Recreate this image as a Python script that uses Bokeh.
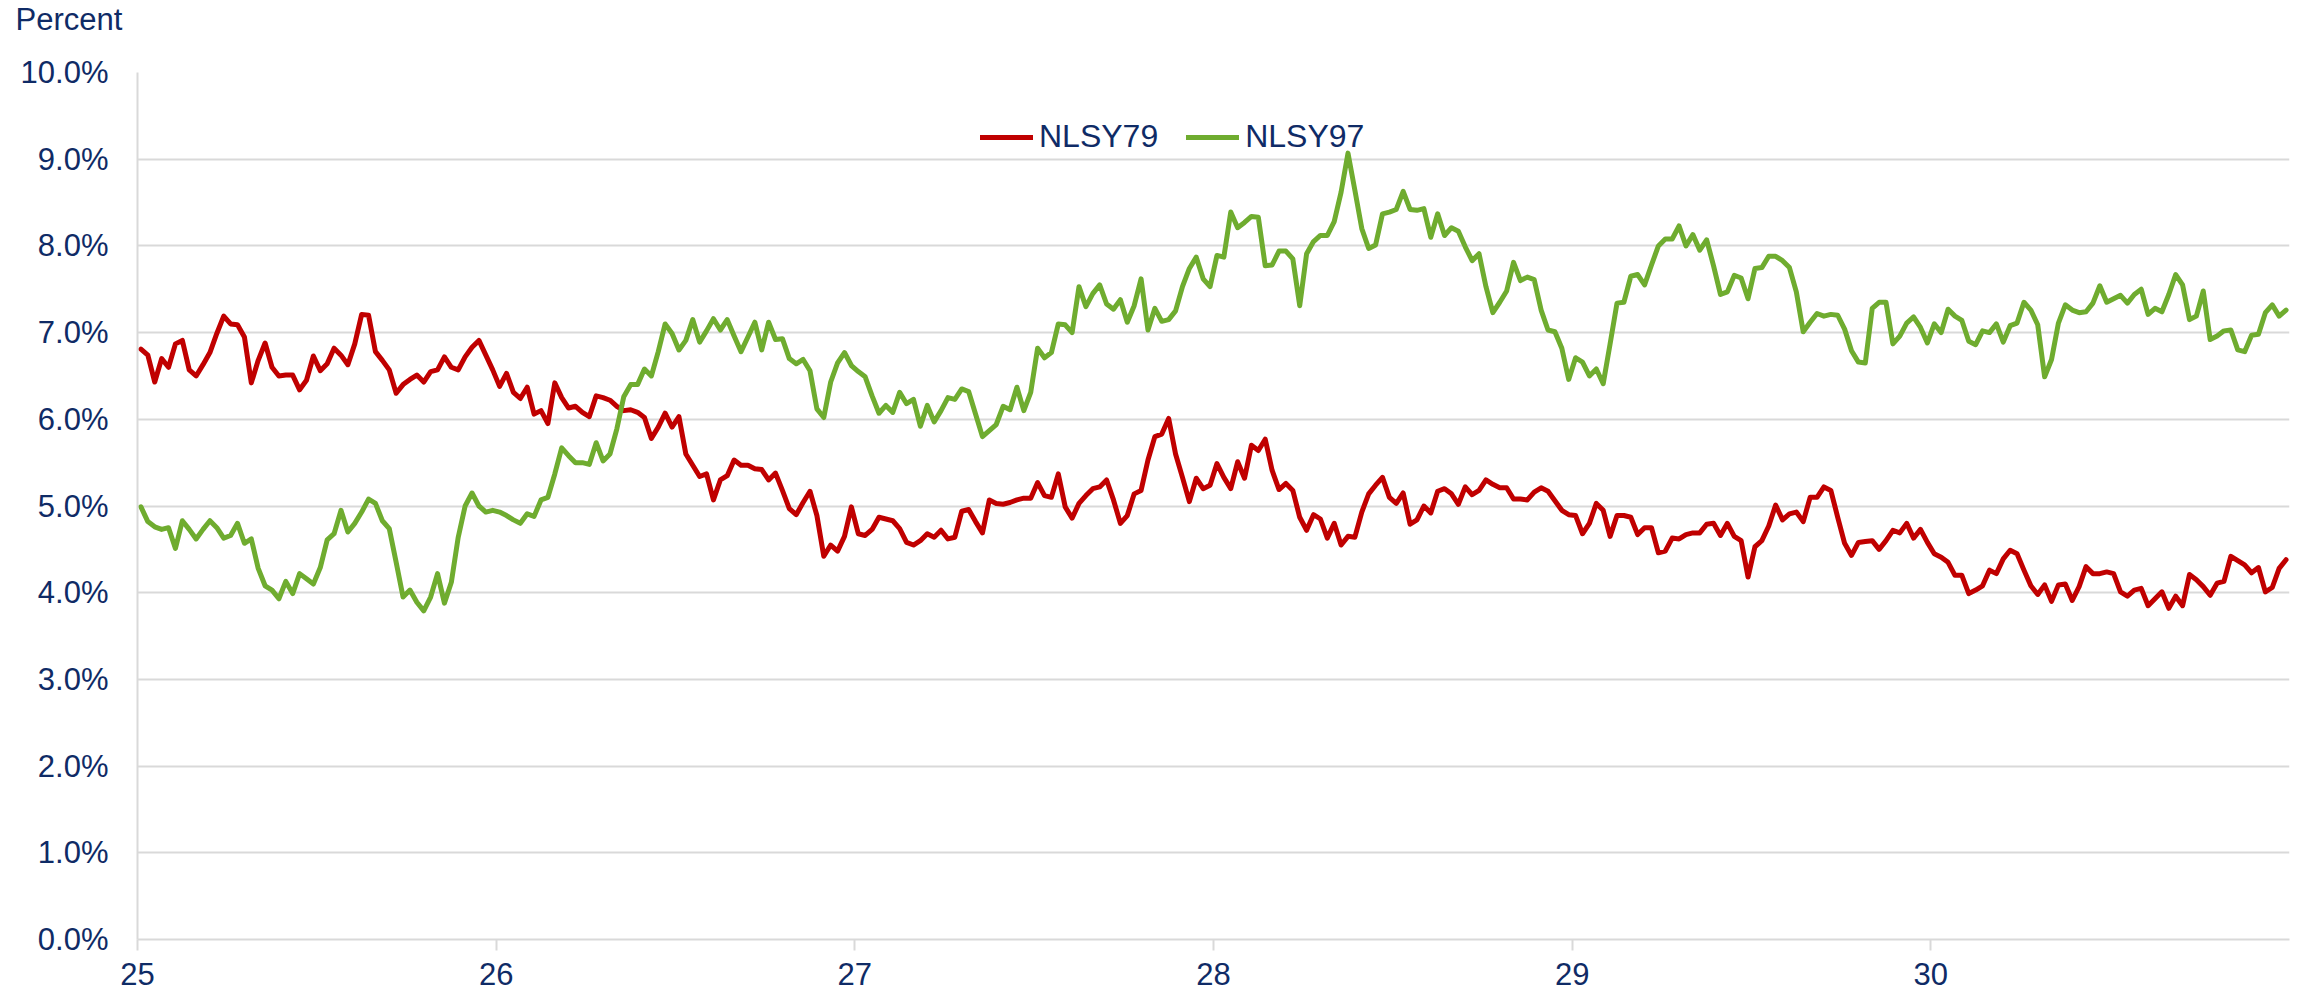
import numpy as np
from bokeh.plotting import figure
from bokeh.models import (Range1d, FixedTicker, PrintfTickFormatter, Legend,
                          LegendItem, Title)
from bokeh.embed import file_html
from bokeh.resources import INLINE

TEXT = "#0F2B66"
FONT = "Liberation Sans"
RED = "#C00000"
GREEN = "#6FAC2F"
GRID = "#D9D9D9"

x_ticks = [25, 26, 27, 28, 29, 30]
y_ticks = [0, 1, 2, 3, 4, 5, 6, 7, 8, 9, 10]
series_names = ["NLSY79", "NLSY97"]

# NLSY79, weekly values (percent), by year of age
nlsy79_a = [6.81, 6.74, 6.43, 6.70, 6.60, 6.87, 6.91, 6.57, 6.50, 6.63,
            6.77, 6.99, 7.19, 7.10, 7.09, 6.95, 6.42, 6.68, 6.88, 6.60,
            6.50, 6.51, 6.51, 6.34, 6.45, 6.73, 6.56, 6.64, 6.82, 6.74,
            6.63, 6.87, 7.21, 7.20, 6.78, 6.68, 6.57, 6.30, 6.40, 6.46,
            6.51, 6.43, 6.55, 6.57, 6.72, 6.60, 6.57, 6.72, 6.83, 6.91,
            6.74, 6.57, 6.38]
nlsy79_b = [6.53, 6.31, 6.24, 6.37, 6.06, 6.10, 5.95, 6.42, 6.25, 6.13,
            6.15, 6.08, 6.03, 6.27, 6.25, 6.22, 6.15, 6.10, 6.11, 6.08,
            6.02, 5.78, 5.91, 6.07, 5.91, 6.03, 5.60, 5.47, 5.34, 5.37,
            5.07, 5.30, 5.35, 5.53, 5.47, 5.47, 5.43, 5.42, 5.30, 5.38,
            5.18, 4.97, 4.90, 5.04, 5.17, 4.89, 4.42, 4.55, 4.48, 4.65,
            4.99, 4.68]
nlsy79_c = [4.66, 4.73, 4.87, 4.85, 4.83, 4.74, 4.58, 4.55, 4.60, 4.68,
            4.64, 4.72, 4.62, 4.64, 4.94, 4.96, 4.82, 4.69, 5.07, 5.03,
            5.02, 5.04, 5.07, 5.09, 5.09, 5.27, 5.12, 5.10, 5.37, 4.99,
            4.86, 5.03, 5.12, 5.20, 5.22, 5.30, 5.07, 4.80, 4.89, 5.14,
            5.18, 5.53, 5.80, 5.83, 6.01, 5.60, 5.33, 5.05, 5.32, 5.20,
            5.24, 5.49]
nlsy79_d = [5.33, 5.20, 5.51, 5.32, 5.70, 5.64, 5.77, 5.41, 5.19, 5.26,
            5.18, 4.87, 4.72, 4.90, 4.85, 4.63, 4.80, 4.55, 4.65, 4.64,
            4.93, 5.14, 5.24, 5.33, 5.10, 5.03, 5.15, 4.79, 4.84, 5.00,
            4.92, 5.17, 5.20, 5.14, 5.02, 5.22, 5.13, 5.18, 5.30, 5.25,
            5.21, 5.21, 5.08, 5.08, 5.07, 5.16, 5.21, 5.17, 5.06, 4.95,
            4.90, 4.89]
nlsy79_e = [4.68, 4.80, 5.03, 4.95, 4.65, 4.89, 4.89, 4.87, 4.67, 4.75,
            4.75, 4.46, 4.48, 4.63, 4.62, 4.67, 4.69, 4.69, 4.79, 4.80,
            4.66, 4.80, 4.65, 4.60, 4.18, 4.53, 4.60, 4.77, 5.01, 4.84,
            4.91, 4.93, 4.82, 5.10, 5.10, 5.22, 5.18, 4.87, 4.57, 4.43,
            4.58, 4.59, 4.60, 4.50, 4.60, 4.72, 4.69, 4.80, 4.63, 4.73,
            4.58, 4.45]
nlsy79_f = [4.41, 4.35, 4.20, 4.20, 3.99, 4.03, 4.08, 4.26, 4.22, 4.39,
            4.49, 4.45, 4.26, 4.08, 3.98, 4.09, 3.90, 4.09, 4.10, 3.91,
            4.07, 4.30, 4.22, 4.22, 4.24, 4.22, 4.01, 3.96, 4.03, 4.05,
            3.85, 3.93, 4.01, 3.82, 3.96, 3.85, 4.21, 4.15, 4.07, 3.97,
            4.11, 4.13, 4.42, 4.37, 4.32, 4.23, 4.29, 4.01, 4.06, 4.28,
            4.38]

# NLSY97
nlsy97_a = [4.99, 4.82, 4.76, 4.73, 4.75, 4.51, 4.83, 4.73, 4.62, 4.73,
            4.83, 4.75, 4.63, 4.66, 4.80, 4.57, 4.62, 4.28, 4.08, 4.03,
            3.93, 4.13, 3.99, 4.22, 4.16, 4.10, 4.29, 4.61, 4.68, 4.95,
            4.70, 4.80, 4.93, 5.08, 5.03, 4.83, 4.74, 4.35, 3.95, 4.03,
            3.89, 3.79, 3.95, 4.22, 3.88, 4.12, 4.64, 5.00, 5.15, 5.00,
            4.93, 4.95, 4.93]
nlsy97_b = [4.89, 4.84, 4.80, 4.91, 4.88, 5.07, 5.10, 5.37, 5.67, 5.58,
            5.50, 5.50, 5.48, 5.73, 5.52, 5.60, 5.89, 6.26, 6.40, 6.40,
            6.58, 6.50, 6.78, 7.10, 6.99, 6.80, 6.91, 7.15, 6.89, 7.02,
            7.16, 7.03, 7.15, 6.96, 6.78, 6.95, 7.12, 6.80, 7.12, 6.92,
            6.93, 6.70, 6.64, 6.69, 6.56, 6.12, 6.02, 6.43, 6.65, 6.77,
            6.62, 6.55]
nlsy97_c = [6.49, 6.27, 6.07, 6.16, 6.08, 6.31, 6.18, 6.23, 5.92, 6.16,
            5.97, 6.10, 6.25, 6.23, 6.35, 6.32, 6.06, 5.80, 5.87, 5.94,
            6.15, 6.11, 6.37, 6.10, 6.31, 6.82, 6.71, 6.77, 7.10, 7.09,
            7.00, 7.53, 7.30, 7.45, 7.55, 7.33, 7.27, 7.38, 7.12, 7.31,
            7.62, 7.03, 7.28, 7.13, 7.15, 7.25, 7.53, 7.74, 7.87, 7.62,
            7.53, 7.89]
nlsy97_d = [7.87, 8.39, 8.21, 8.27, 8.34, 8.33, 7.77, 7.78, 7.94, 7.94,
            7.85, 7.31, 7.91, 8.05, 8.12, 8.12, 8.28, 8.62, 9.07, 8.64,
            8.20, 7.97, 8.01, 8.37, 8.39, 8.42, 8.63, 8.42, 8.41, 8.43,
            8.10, 8.37, 8.12, 8.21, 8.17, 7.99, 7.83, 7.91, 7.53, 7.23,
            7.35, 7.48, 7.81, 7.60, 7.64, 7.61, 7.26, 7.03, 7.01, 6.82,
            6.46, 6.71]
nlsy97_e = [6.66, 6.50, 6.58, 6.41, 6.87, 7.34, 7.35, 7.65, 7.67, 7.55,
            7.78, 8.00, 8.08, 8.08, 8.23, 8.00, 8.13, 7.95, 8.07, 7.77,
            7.44, 7.47, 7.66, 7.63, 7.39, 7.74, 7.75, 7.88, 7.88, 7.83,
            7.75, 7.47, 7.01, 7.12, 7.22, 7.19, 7.21, 7.20, 7.04, 6.79,
            6.66, 6.65, 7.28, 7.35, 7.35, 6.87, 6.96, 7.11, 7.18, 7.06,
            6.88, 7.10]
nlsy97_f = [7.00, 7.27, 7.19, 7.14, 6.90, 6.86, 7.02, 7.00, 7.10, 6.89,
            7.08, 7.11, 7.35, 7.26, 7.09, 6.49, 6.69, 7.11, 7.32, 7.26,
            7.23, 7.24, 7.34, 7.54, 7.35, 7.39, 7.43, 7.34, 7.44, 7.50,
            7.21, 7.28, 7.24, 7.44, 7.67, 7.55, 7.15, 7.19, 7.48, 6.92,
            6.96, 7.02, 7.03, 6.80, 6.78, 6.97, 6.98, 7.23, 7.32, 7.19,
            7.26]

nlsy79 = nlsy79_a + nlsy79_b + nlsy79_c + nlsy79_d + nlsy79_e + nlsy79_f
nlsy97 = nlsy97_a + nlsy97_b + nlsy97_c + nlsy97_d + nlsy97_e + nlsy97_f

weeks = np.arange(len(nlsy79))
age = 25 + (weeks + 0.5) / 52.0

p = figure(width=2292, height=994, output_backend="svg", toolbar_location=None,
           x_range=Range1d(25, 31), y_range=Range1d(0, 10),
           min_border_left=137, min_border_right=3, min_border_top=72,
           min_border_bottom=55)
p.outline_line_color = None
p.background_fill_color = "white"
p.border_fill_color = "white"

r1 = p.line(age, nlsy79, line_color=RED, line_width=5,
            line_join="round", line_cap="round")
r2 = p.line(age, nlsy97, line_color=GREEN, line_width=5,
            line_join="round", line_cap="round")

# axes
p.yaxis.ticker = FixedTicker(ticks=y_ticks)
p.yaxis.formatter = PrintfTickFormatter(format="%.1f%%")
p.yaxis.major_tick_line_color = None
p.yaxis.major_tick_out = 0
p.yaxis.major_tick_in = 0
p.yaxis.minor_tick_line_color = None
p.yaxis.major_label_standoff = 29
p.yaxis.axis_line_color = GRID
p.yaxis.axis_line_width = 2

p.xaxis.ticker = FixedTicker(ticks=x_ticks)
p.xaxis.major_tick_out = 11
p.xaxis.major_tick_in = 0
p.xaxis.major_tick_line_color = GRID
p.xaxis.major_tick_line_width = 2
p.xaxis.minor_tick_line_color = None
p.xaxis.major_label_standoff = 12
p.xaxis.axis_line_color = GRID
p.xaxis.axis_line_width = 2

for ax in (p.xaxis, p.yaxis):
    ax.major_label_text_font = FONT
    ax.major_label_text_font_size = "31px"
    ax.major_label_text_color = TEXT

p.xgrid.visible = False
p.ygrid.ticker = FixedTicker(ticks=y_ticks)
p.ygrid.grid_line_color = GRID
p.ygrid.grid_line_width = 2

legend = Legend(items=[LegendItem(label=series_names[0], renderers=[r1]),
                       LegendItem(label=series_names[1], renderers=[r2])],
                orientation="horizontal", location=(843, 784),
                glyph_width=53, glyph_height=36, label_height=36,
                label_standoff=6, spacing=28, padding=0, margin=0,
                border_line_color=None, background_fill_alpha=0,
                label_text_font=FONT, label_text_font_size="32px",
                label_text_color=TEXT)
p.add_layout(legend)

# spacer title next to the frame, then the "Percent" unit label above it
p.add_layout(Title(text=" ", text_font_size="1px", standoff=31,
                   text_color="white"), "above")
p.add_layout(Title(text="Percent", align="left", offset=-122, standoff=0,
                   vertical_align="top", text_font=FONT,
                   text_font_size="31px", text_font_style="normal",
                   text_color=TEXT), "above")

open("out.html", "w").write(file_html(p, INLINE))
